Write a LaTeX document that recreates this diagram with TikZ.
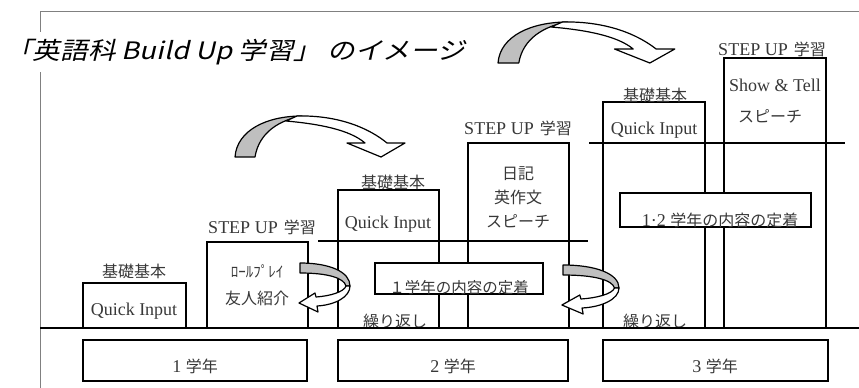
\documentclass[tikz,border=0pt]{standalone}
\usepackage{fontspec}
\setmainfont{Liberation Serif}
\newfontfamily\jpf{Noto Sans CJK JP}
\newfontfamily\jpt[FakeSlant=0.2]{Noto Sans CJK JP}
\newcommand{\jp}{\fontsize{16}{18}\selectfont\jpf}
\tikzset{
  bx/.style={draw=black, line width=1.3pt, inner sep=0pt, outer sep=0pt},
  wbx/.style={bx, fill=white},
  lab/.style={inner sep=0pt, text height=12pt, text depth=0pt, anchor=center, font=\fontsize{18}{20}\selectfont, text=black!78},
  shelf/.style={line width=1.3pt},
  bigarrow/.pic={
    \filldraw[fill=black!25, draw=black, line width=1.2pt, line join=round]
      (0,0) .. controls (2,-27) and (32,-41) .. (67,-41)
      .. controls (45,-37) and (24,-25) .. (20,0) -- cycle;
    \filldraw[fill=white, draw=black, line width=1.2pt, line join=round]
      (62,-41) .. controls (105,-42) and (135,-28) .. (152,-14)
      -- (170,-14) -- (146,0) -- (112,-14) -- (130,-14)
      .. controls (115,-27) and (85,-33) .. (51,-36) -- cycle;
  },
  smallarrow/.pic={
    \filldraw[fill=black!25, draw=black, line width=1.2pt, line join=round]
      (0,0) .. controls (30,0) and (50,9) .. (50,23) -- (46,23)
      .. controls (44,15) and (28,10) .. (0,10) -- cycle;
    \filldraw[fill=white, draw=black, line width=1.2pt, line join=round]
      (50,23) .. controls (50,34) and (35,42) .. (17,43) -- (18,49)
      -- (-1,40) -- (15,30) -- (16,34)
      .. controls (30,33) and (44,29) .. (46,23) -- cycle;
  }
}
\begin{document}
\begin{tikzpicture}[x=1pt, y=-1pt]
\useasboundingbox (0,0) rectangle (859,388);
% frame
\draw[black!50, line width=1pt] (40,388) -- (40,11) -- (859,11);
\node[fill=white, inner xsep=0pt, minimum height=40pt, anchor=west,
      font=\fontsize{24}{26}\selectfont\jpt] (title) at (5,52)
      {\scalebox{1.15}[1]{「英語科 Build Up 学習」 のイメージ}};
% ground
\draw[line width=1.5pt] (40,328) coordinate (g0) -- (859,328) coordinate (g1);
% shelves
\draw[shelf] (318,241) coordinate (s2a) -- (588,241) coordinate (s2b);
\draw[shelf] (589,143) coordinate (s3a) -- (845,143) coordinate (s3b);
% year 1
\node[bx, minimum width=103pt, minimum height=45pt] (q1) at (134.5,305.5) {};
\node[bx, minimum width=101pt, minimum height=86pt] (s1) at (257.5,285) {};
\node[lab] (q1l) at (134,271) {\jp 基礎基本};
\node[lab] (q1t) at (134,309) {Quick Input};
\node[lab] (s1l) at (262,227) {STEP UP\hspace{6pt}{\jp 学習}};
\node[lab] (s1a) at (257,271) {\jpf\fontsize{15}{17}\selectfont ﾛｰﾙﾌﾟﾚｲ};
\node[lab] (s1b) at (257,298) {\jp 友人紹介};
% year 2
\node[bx, minimum width=101pt, minimum height=138pt] (q2) at (388.5,259) {};
\node[bx, minimum width=101pt, minimum height=185pt] (s2) at (518.5,235.5) {};
\node[lab] (q2l) at (393,182) {\jp 基礎基本};
\node[lab] (q2t) at (388,222) {Quick Input};
\node[lab] (s2l) at (518,128) {STEP UP\hspace{6pt}{\jp 学習}};
\node[lab] (s2a) at (518,173) {\jp 日記};
\node[lab] (s2b) at (518,197) {\jp 英作文};
\node[lab] (s2c) at (518,221) {\jp スピーチ};
\node[wbx, minimum width=168pt, minimum height=31pt] (c2) at (459,278.5) {};
\node[lab] (c2t) at (459,287) {\jpf\fontsize{15.5}{17}\selectfont １学年の内容の定着};
% year 3
\node[bx, minimum width=102pt, minimum height=226pt] (q3) at (654,215) {};
\node[bx, minimum width=102pt, minimum height=270pt] (s3) at (775,193) {};
\node[lab] (q3l) at (655,95) {\jp 基礎基本};
\node[lab] (q3t) at (654,128) {Quick Input};
\node[lab] (s3l) at (772,49) {STEP UP\hspace{6pt}{\jp 学習}};
\node[lab] (s3a) at (775,85) {Show \& Tell};
\node[lab] (s3b) at (770,116) {\jp スピーチ};
\node[wbx, minimum width=191pt, minimum height=34pt] (c3) at (715.5,210) {};
\node[lab] (c3t) at (720,220) {1·2 {\jp 学年の内容の定着}};
% repeat labels, clipped at ground
\begin{scope}
  \clip (300,250) rectangle (720,328);
  \node[lab] (r2) at (395,321) {\jp 繰り返し};
  \node[lab] (r3) at (655,321) {\jp 繰り返し};
\end{scope}
\draw[line width=1.5pt] (g0) -- (g1);
% year boxes
\node[bx, minimum width=224pt, minimum height=41pt] (y1) at (195,360.5) {};
\node[bx, minimum width=230pt, minimum height=41pt] (y2) at (453,360.5) {};
\node[bx, minimum width=225pt, minimum height=41pt] (y3) at (715.5,360.5) {};
\node[lab] (y1t) at (195,366) {1 {\jp 学年}};
\node[lab] (y2t) at (453,366) {2 {\jp 学年}};
\node[lab] (y3t) at (715,366) {3 {\jp 学年}};
% arrows
\pic at (235,157) {bigarrow};
\pic[xscale=1.04] at (498,63) {bigarrow};
\pic at (300,263) {smallarrow};
\pic[xscale=1.12] at (563,265) {smallarrow};
\end{tikzpicture}
\end{document}
